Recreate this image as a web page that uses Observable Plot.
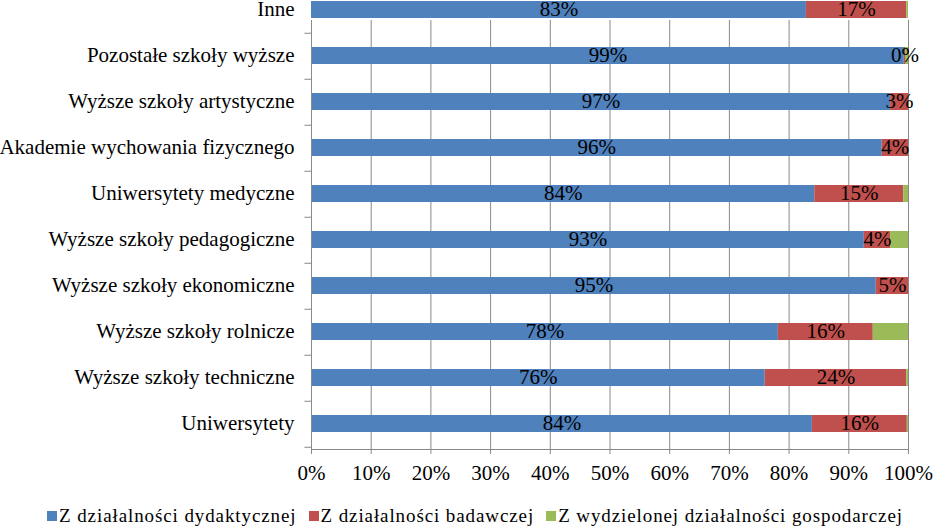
<!DOCTYPE html>
<html><head><meta charset="utf-8">
<script src="https://cdn.jsdelivr.net/npm/d3@7"></script>
<script src="https://cdn.jsdelivr.net/npm/@observablehq/plot@0.6"></script>
</head>
<body style="margin:0;background:#fff;font-family:'Liberation Serif';overflow:hidden">
<div id="chart"></div>
<div id="legend" style="display:flex;justify-content:center;align-items:center;gap:12px;height:37px;padding-top:14px;padding-left:14px;box-sizing:border-box;font-size:19px;letter-spacing:0.9px;color:#000;font-family:'Liberation Serif'"></div>
<script>
const categories = ["Inne","Pozostałe szkoły wyższe","Wyższe szkoły artystyczne","Akademie wychowania fizycznego","Uniwersytety medyczne","Wyższe szkoły pedagogiczne","Wyższe szkoły ekonomiczne","Wyższe szkoły rolnicze","Wyższe szkoły techniczne","Uniwersytety"];
const seriesNames = ["Z działalności dydaktycznej","Z działalności badawczej","Z wydzielonej działalności gospodarczej"];
const colors = ["#4F81BD","#C0504D","#9BBB59"];
const dydaktyczna = [82.9, 99.3, 97.0, 95.6, 84.3, 92.6, 94.6, 78.2, 76.0, 83.9];
const badawcza    = [16.8, 0.2, 3.0, 4.4, 14.9, 4.4, 5.4, 15.9, 23.7, 15.9];
const gospodarcza = [0.3, 0.5, 0, 0, 0.8, 3.0, 0, 5.9, 0.3, 0.2];
const xTicks = [0,10,20,30,40,50,60,70,80,90,100];

const seriesValues = [dydaktyczna, badawcza, gospodarcza];
const data = [];
categories.forEach((c,i)=>{
  seriesNames.forEach((s,j)=>{
    data.push({category:c, series:s, value:seriesValues[j][i], labeled: j<2});
  });
});

const FONT = "Liberation Serif";
const GRID = "#898989";
const step = 46.5;
const chart = Plot.plot({
  width: 936,
  height: 490,
  marginLeft: 311,
  marginRight: 28,
  marginBottom: 41,
  style: {fontFamily: FONT, fontSize: "21px", background: "#fff", color: "#000"},
  x: {domain:[0,100], ticks: xTicks, tickFormat: d=>d+"%", label: null},
  y: {domain: categories, range: [449.5 - step*categories.length, 449.5], paddingInner: 0.62, paddingOuter: 0.31, label: null},
  color: {domain: seriesNames, range: colors},
  marks: [
    Plot.ruleX(xTicks, {stroke: GRID, strokeWidth:1, strokeOpacity:1}),
    Plot.barX(data, Plot.stackX({y:"category", x:"value", fill:"series", z:"series", order: null})),
    Plot.textX(data, Plot.stackX({y:"category", x:"value", z:"series", order:null, filter: d=>d.labeled, text: d=>Math.round(d.value)+"%", fill:"#000", fontSize: 21, fontFamily: FONT, dy: -1})),
    Plot.frame({anchor:"left", stroke: GRID, strokeOpacity:1}),
    Plot.frame({anchor:"bottom", stroke: GRID, strokeOpacity:1}),
    Plot.ruleY(categories, {y: d=>d, x1: -1.1, x2: 0, dy: step/2, stroke: GRID, strokeOpacity:1}),
    Plot.axisX({ticks: xTicks, tickFormat: d=>d+"%", tickSize: 5, tickPadding: 11, stroke: GRID, strokeOpacity: 1, fontSize: 21, fontFamily: FONT, fill:"#000"}),
    Plot.axisY({tickSize: 0, tickPadding: 17, fontSize: 21, fontFamily: FONT, fill:"#000", dy: -1})
  ]
});
document.getElementById("chart").appendChild(chart);

const legend = document.getElementById("legend");
seriesNames.forEach((s,i)=>{
  const it = document.createElement("div");
  it.style.cssText = "display:flex;align-items:center;";
  const sw = document.createElement("span");
  sw.style.cssText = "width:10px;height:10px;display:inline-block;margin-right:2px;background:" + colors[i];
  const t = document.createElement("span"); t.textContent=s;
  it.appendChild(sw); it.appendChild(t); legend.appendChild(it);
});
</script>
</body></html>
